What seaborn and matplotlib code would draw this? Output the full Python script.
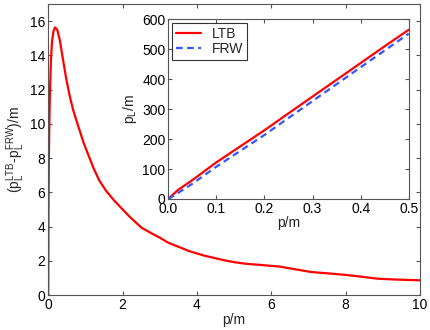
import numpy as np
import pandas as pd
import matplotlib
matplotlib.use("Agg")
import matplotlib.pyplot as plt
import seaborn as sns

# main curve: (p_L^LTB - p_L^FRW)/m against p/m
p_main = [0.0, 0.005, 0.015, 0.03, 0.045, 0.07, 0.1, 0.14, 0.18, 0.24, 0.31, 0.4, 0.49,
          0.58, 0.67, 0.8, 0.95, 1.08, 1.22, 1.37, 1.55, 1.76, 2.0, 2.2, 2.51, 2.78,
          3.0, 3.23, 3.5, 3.81, 4.2, 4.71, 5.0, 5.33, 5.7, 6.23, 6.6, 7.08, 7.5,
          8.02, 8.5, 8.87, 9.4, 10.0]
d_main = [0.0, 4.5, 7.8, 10.2, 11.8, 13.6, 14.8, 15.4, 15.63, 15.5, 14.9, 13.7, 12.55,
          11.6, 10.8, 9.9, 8.9, 8.17, 7.4, 6.7, 6.1, 5.55, 5.0, 4.55, 3.93, 3.6,
          3.35, 3.05, 2.82, 2.55, 2.3, 2.04, 1.92, 1.82, 1.76, 1.66, 1.52, 1.34, 1.27,
          1.17, 1.05, 0.95, 0.9, 0.86]

# inset: p_L/m against p/m
p_ins = [0.0, 0.02, 0.05, 0.1, 0.15, 0.2, 0.25, 0.3, 0.35, 0.4, 0.45, 0.5]
ltb = [0.0, 30.0, 63.0, 122.5, 176.0, 229.5, 286.0, 342.0, 398.0, 454.0, 510.0, 565.0]
frw = [0.0, 20.0, 51.0, 108.0, 161.0, 214.0, 270.5, 327.0, 383.5, 440.0, 496.0, 552.0]

sns.set_style("ticks")
plt.rcParams["font.family"] = ["Liberation Sans", "DejaVu Sans"]
plt.rcParams["mathtext.fontset"] = "custom"
plt.rcParams["mathtext.rm"] = "Liberation Sans"
plt.rcParams["mathtext.it"] = "Liberation Sans"
plt.rcParams["font.size"] = 10
plt.rcParams["axes.edgecolor"] = "#555555"
plt.rcParams["axes.linewidth"] = 0.8
plt.rcParams["xtick.color"] = "#555555"
plt.rcParams["ytick.color"] = "#555555"
plt.rcParams["xtick.labelcolor"] = "black"
plt.rcParams["ytick.labelcolor"] = "black"

df_main = pd.DataFrame({"p": p_main, "d": d_main})
df_ins = pd.DataFrame({"p": p_ins * 2,
                       "pL": ltb + frw,
                       "model": ["LTB"] * len(p_ins) + ["FRW"] * len(p_ins)})

fig = plt.figure(figsize=(4.31, 3.30), dpi=100)
ax = fig.add_axes([0.112, 0.106, 0.8625, 0.882])
sns.lineplot(ax=ax, data=df_main, x="p", y="d", color="red", lw=1.6,
             sort=False, estimator=None)
ax.set_xlim(0, 10)
ax.set_ylim(0, 17)
ax.set_xticks([0, 2, 4, 6, 8, 10])
ax.set_yticks(range(0, 17, 2))
ax.set_xlabel("p/m", labelpad=1)
ax.set_ylabel(r"($\mathrm{p_L^{LTB}}$-$\mathrm{p_L^{FRW}}$)/m", labelpad=2)
ax.tick_params(direction="in", top=True, right=True, length=3, labelsize=10, pad=2)

ins = fig.add_axes([0.3905, 0.397, 0.5578, 0.5445])
sns.lineplot(ax=ins, data=df_ins, x="p", y="pL", hue="model", style="model",
             palette={"LTB": "red", "FRW": "#3355ff"},
             dashes={"LTB": "", "FRW": (3, 2)}, lw=1.6,
             sort=False, estimator=None)
ins.set_xlim(0, 0.5)
ins.set_ylim(0, 600)
ins.set_xticks([0, 0.1, 0.2, 0.3, 0.4, 0.5])
ins.set_yticks(range(0, 601, 100))
ins.set_xlabel("p/m", labelpad=0)
ins.set_ylabel(r"$\mathrm{p_L}$/m", labelpad=2)
ins.tick_params(direction="in", top=True, right=True, length=3, labelsize=10, pad=2)
leg = ins.legend(title=None, loc="upper left", fontsize=10, frameon=True,
                 fancybox=False, edgecolor="black", handlelength=1.8,
                 borderaxespad=0.3, borderpad=0.25, labelspacing=0.1)
leg.get_frame().set_linewidth(0.8)

fig.savefig("out.png", dpi=100)
